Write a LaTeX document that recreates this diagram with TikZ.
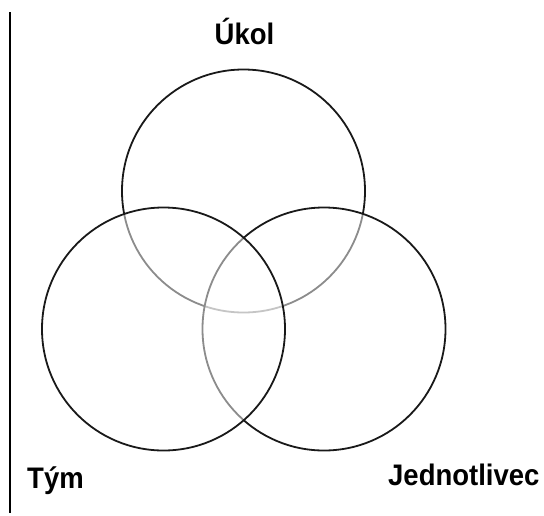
\documentclass[tikz,border=0pt]{standalone}
\usepackage{fontspec}
\setmainfont{Liberation Sans}
\newcommand{\tallbf}[1]{\scalebox{1}[1.08]{#1}}
\begin{document}
\begin{tikzpicture}[x=1pt,y=-1pt,
  venn/.style={circle, draw=black!90, line width=1.8pt, fill=white, fill opacity=0.5,
    draw opacity=1, minimum size=243pt, inner sep=0pt, outer sep=0pt},
  lbl/.style={font=\fontsize{27.5}{30}\selectfont\bfseries, inner sep=0pt, text=black}]
\useasboundingbox (0,0) rectangle (544,515);
\coordinate (vtop) at (10,12);
\coordinate (vbot) at (10,513);
\draw[line width=1.2pt, black] (vtop) -- (vbot);
\node[venn] (ukol) at (243.5,191) {};
\node[venn] (jedn) at (324,329) {};
\node[venn] (tym) at (163.5,329) {};
\node[lbl, anchor=base] (lukol) at (244.5,44) {\tallbf{Úkol}};
\node[lbl, anchor=base west] (ltym) at (27,488) {\tallbf{Tým}};
\node[lbl, anchor=base west] (ljedn) at (388,485) {\tallbf{Jednotlivec}};
\end{tikzpicture}
\end{document}
